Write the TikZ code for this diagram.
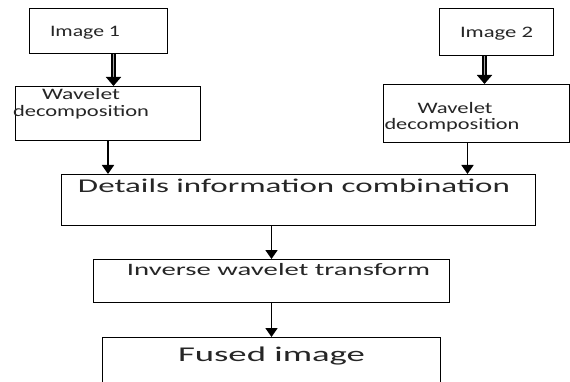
\documentclass[tikz,border=0pt]{standalone}
\usepackage{fontspec}
\setmainfont{Carlito}
\usetikzlibrary{arrows.meta}
\newcommand{\sx}[2]{\resizebox{#1pt}{\height}{#2}}
\begin{document}
\begin{tikzpicture}[x=1pt,y=-1pt,
  box/.style={draw, line width=1pt, inner sep=0pt, anchor=north west},
  txt/.style={inner sep=0pt, anchor=base, text=black!85},
  arr/.style={line width=1.8pt, -{Triangle[width=12pt,length=9pt]}},
  dbl/.style={line width=1.8pt, double=black!35, double distance=1pt, -{Triangle[width=15pt,length=9pt]}}]
\clip (0,0) rectangle (570,382);
\useasboundingbox (0,0) rectangle (570,382);
\fill[white] (0,0) rectangle (570,382);
% boxes
\node[box, minimum width=138pt, minimum height=45pt] (img1) at (29,8) {};
\node[box, minimum width=185pt, minimum height=54pt] (wav1) at (15,86) {};
\node[box, minimum width=114pt, minimum height=47pt] (img2) at (439,8) {};
\node[box, minimum width=186pt, minimum height=58pt] (wav2) at (383,84) {};
\node[box, minimum width=474pt, minimum height=51pt] (det) at (61,174) {};
\node[box, minimum width=356pt, minimum height=43pt] (inv) at (93,259) {};
\node[box, minimum width=338pt, minimum height=60pt] (fus) at (102,337) {};
% texts
\node[txt, font=\fontsize{16}{19}\selectfont] (t1) at (85,37) {\sx{70}{Image 1}};
\node[txt, font=\fontsize{16}{19}\selectfont] (t2) at (496.5,38) {\sx{73}{Image 2}};
\node[txt, font=\fontsize{16}{19}\selectfont] (w1a) at (81,100) {\sx{78}{Wavelet}};
\node[txt, font=\fontsize{16}{19}\selectfont] (w1b) at (81,117) {\sx{136}{decomposition}};
\node[txt, font=\fontsize{16}{19}\selectfont] (w2a) at (455,114) {\sx{75}{Wavelet}};
\node[txt, font=\fontsize{16}{19}\selectfont] (w2b) at (452,130) {\sx{135}{decomposition}};
\node[txt, font=\fontsize{19.5}{23}\selectfont] (td) at (294,193) {\sx{432}{Details information combination}};
\node[txt, font=\fontsize{17.4}{21}\selectfont] (ti) at (278.5,275) {\sx{303}{Inverse wavelet transform}};
\node[txt, font=\fontsize{21}{25}\selectfont] (tf) at (271.5,361) {\sx{187}{Fused image}};
% arrows
\draw[dbl] ([xshift=15pt]img1.south) -- ([xshift=15pt]img1.south |- wav1.north);
\draw[dbl] ([xshift=-12pt]img2.south) -- ([xshift=-12pt]img2.south |- wav2.north);
\draw[arr] (wav1.south) -- (wav1.south |- det.north);
\draw[arr] ([xshift=-9pt]wav2.south) -- ([xshift=-9pt]wav2.south |- det.north);
\draw[arr] (inv.north |- det.south) -- (inv.north);
\draw[arr] (inv.south) -- (fus.north);
\end{tikzpicture}
\end{document}
